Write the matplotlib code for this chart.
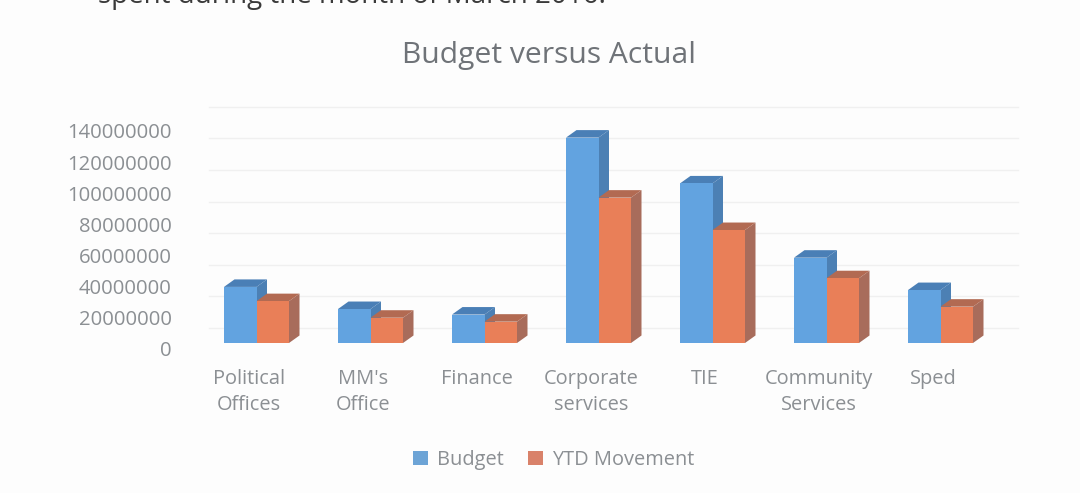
import matplotlib
matplotlib.use("Agg")
import matplotlib.pyplot as plt
from matplotlib.patches import Polygon, Patch

categories = ["Political\nOffices", "MM's\nOffice", "Finance", "Corporate\nservices",
              "TIE", "Community\nServices", "Sped"]
budget = [35.5e6, 21.5e6, 18e6, 130e6, 101e6, 54e6, 33.5e6]
ytd = [26.5e6, 16e6, 13.5e6, 92e6, 71.5e6, 41e6, 23e6]
grid_values = [0, 20e6, 40e6, 60e6, 80e6, 100e6, 120e6, 140e6]
series_names = ["Budget", "YTD Movement"]
title_text = "Budget versus Actual"
cut_text = "spent during the month of March 2016."

W, H = 1080, 493
BG = "#fdfdfd"
TXT = "#8b8f93"
BLUE = ("#62a3e0", "#4c80b4", "#4a7fb6")
ORANGE = ("#e97f58", "#a86c5b", "#b26a52")
FONT = "Open Sans"

fig = plt.figure(figsize=(W / 100, H / 100), dpi=100, facecolor=BG)

# main plot area: value 0 sits on the front floor line
top_px, bot_px, left_px, right_px = 100, 343, 199.5, 1018
ax = fig.add_axes([left_px / W, 1 - bot_px / H, (right_px - left_px) / W, (bot_px - top_px) / H])
px_per_val = 31.6 / 20e6
ax.set_ylim(0, (bot_px - top_px) / px_per_val)
pitch = 114
ax.set_xlim(-0.5, -0.5 + (right_px - left_px) / pitch)
ax.axis("off")

# 3D depth, expressed in data units
dx = 10.5 / pitch
dy = 7.5 / px_per_val
wall = 15 / px_per_val
bw = 32.5 / pitch

for v in grid_values:
    ax.plot([-0.42, ax.get_xlim()[1]], [v + wall] * 2, color="#f0f0f0", lw=1, zorder=1, clip_on=False)


def bar3d(x, val, cols, z):
    face, side, top = cols
    ax.add_patch(Polygon([(x, 0), (x + bw, 0), (x + bw, val), (x, val)], fc=face, ec="none", zorder=z + 0.2))
    ax.add_patch(Polygon([(x + bw, 0), (x + bw + dx, dy), (x + bw + dx, val + dy), (x + bw, val)],
                         fc=side, ec="none", zorder=z))
    ax.add_patch(Polygon([(x, val), (x + dx, val + dy), (x + bw + dx, val + dy), (x + bw, val)],
                         fc=top, ec="none", zorder=z))


for i, (b, y) in enumerate(zip(budget, ytd)):
    bar3d(i - bw, b, BLUE, 2)
    bar3d(i, y, ORANGE, 3)

# value labels
ax_y = fig.add_axes([left_px / W, 1 - 349 / H, 0.3, (349 - 131) / H])
ax_y.patch.set_alpha(0)
ax_y.set_ylim(0, 140e6)
ax_y.set_xticks([])
for s in ax_y.spines.values():
    s.set_visible(False)
ax_y.set_yticks(grid_values)
ax_y.set_yticklabels([f"{int(v)}" for v in grid_values], fontsize=14.6, color=TXT, family=FONT)
ax_y.tick_params(axis="y", length=0, pad=20)

# category labels
for i, c in enumerate(categories):
    fig.text((249 + pitch * i) / W, 1 - 369 / H, c, ha="center", va="top", fontsize=14.4, color=TXT,
             family=FONT, linespacing=1.38)

fig.text(549 / W, 1 - 55 / H, title_text, ha="center", va="center", fontsize=21.6, color="#6f7378", family=FONT)
fig.text(98 / W, 1 - 3 / H, cut_text, ha="left", va="baseline", fontsize=20, color="#3a3a3a", family=FONT)

handles = [Patch(fc="#6da4d6", ec="none"), Patch(fc="#d9826a", ec="none")]
fig.legend(handles, series_names, loc="center", bbox_to_anchor=(554 / W, 1 - 460 / H), ncol=2, frameon=False,
           prop={"family": FONT, "size": 14.4}, labelcolor=TXT, handlelength=0.75, handleheight=0.75,
           handletextpad=0.45, columnspacing=1.2)

fig.savefig("out.png", dpi=100, facecolor=BG)
